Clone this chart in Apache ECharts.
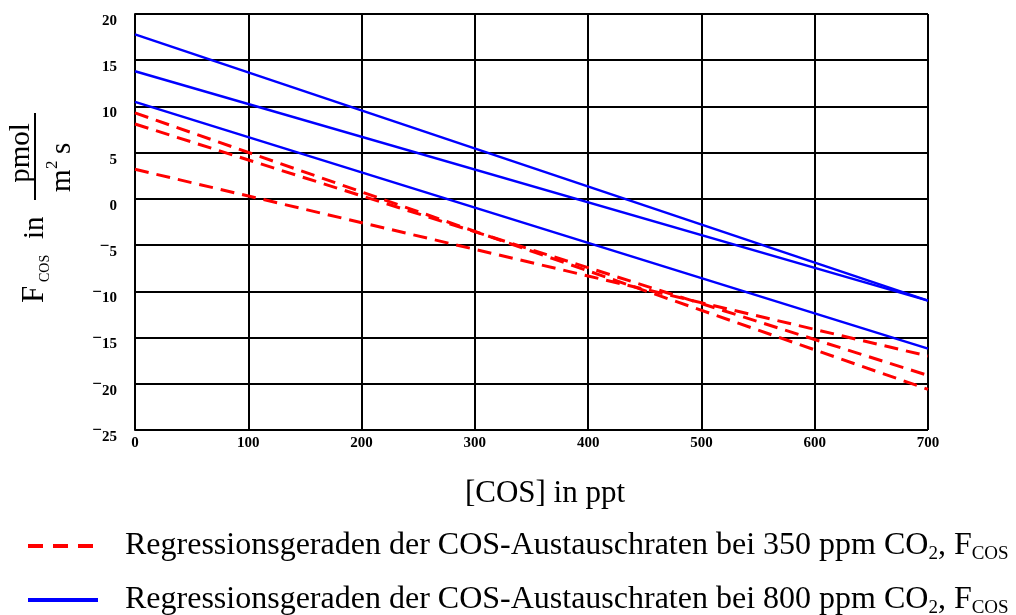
<!DOCTYPE html>
<html>
<head>
<meta charset="utf-8">
<script src="https://cdn.jsdelivr.net/npm/echarts@6/dist/echarts.min.js"></script>
<style>
  html, body { margin: 0; padding: 0; background: #fff; }
  #chart { width: 1016px; height: 615px; }
</style>
</head>
<body>
<div id="chart"></div>
<script>
// COS concentration range covered by the regression lines (ppt)
const cosRange = [0, 700];

// Regression lines at 350 ppm CO2: flux at [COS] = 0 and at [COS] = 700
const flux350Start = [9.3, 8.1, 3.2];
const flux350End = [-20.6, -19.1, -17.0];

// Regression lines at 800 ppm CO2
const flux800Start = [17.8, 13.8, 10.5];
const flux800End = [-11.0, -11.0, -16.2];

// Axis scales
const xTicks = { min: 0, max: 700, step: 100 };
const yTicks = { min: -25, max: 20, step: 5 };

// Legend texts: [main, subscript, main, subscript]
const legend350 = ['Regressionsgeraden der COS-Austauschraten bei 350 ppm CO', '2', ', F', 'COS'];
const legend800 = ['Regressionsgeraden der COS-Austauschraten bei 800 ppm CO', '2', ', F', 'COS'];

const SERIF = '"Liberation Serif", "Times New Roman", "DejaVu Serif", serif';
const name350 = legend350.join('');
const name800 = legend800.join('');

function lineData(starts, ends, i) {
  return [[cosRange[0], starts[i]], [cosRange[1], ends[i]]];
}

const series = [];
flux800Start.forEach((_, i) => {
  series.push({
    name: name800, type: 'line', symbol: 'none', silent: true,
    data: lineData(flux800Start, flux800End, i),
    lineStyle: { color: '#0000ff', width: 2.5 },
    itemStyle: { color: '#0000ff' }
  });
});
flux350Start.forEach((_, i) => {
  series.push({
    name: name350, type: 'line', symbol: 'none', silent: true,
    data: lineData(flux350Start, flux350End, i),
    lineStyle: { color: '#ff0000', width: 3, type: [14, 8] },
    itemStyle: { color: '#ff0000' }
  });
});

function legendRich(parts) {
  return '{t|' + parts[0] + '}{s|' + parts[1] + '}{t|' + parts[2] + '}{s|' + parts[3] + '}';
}

const chart = echarts.init(document.getElementById('chart'), null, { renderer: 'canvas' });

// Vertical axis title: F_COS in pmol / (m^2 s), rotated to read bottom-up
const T = 29;
const yTitle = {
  type: 'group',
  x: 45, y: 303,
  rotation: Math.PI / 2,
  silent: true,
  children: [
    { type: 'text', style: { text: 'F', x: 0, y: -10, fontSize: T + 2, fontFamily: SERIF, fill: '#000', align: 'left', verticalAlign: 'middle' } },
    { type: 'text', style: { text: 'COS', x: 21, y: 0, fontSize: 14, fontFamily: SERIF, fill: '#000', align: 'left', verticalAlign: 'middle' } },
    { type: 'text', style: { text: 'in', x: 64, y: -10, fontSize: T, fontFamily: SERIF, fill: '#000', align: 'left', verticalAlign: 'middle' } },
    { type: 'text', style: { text: 'pmol', x: 150, y: -24, fontSize: T, fontFamily: SERIF, fill: '#000', align: 'center', verticalAlign: 'middle' } },
    { type: 'line', shape: { x1: 103, y1: -10, x2: 190, y2: -10 }, style: { stroke: '#000', lineWidth: 2 } },
    { type: 'text', style: { text: 'm', x: 111, y: 17, fontSize: T, fontFamily: SERIF, fill: '#000', align: 'left', verticalAlign: 'middle' } },
    { type: 'text', style: { text: '2', x: 134, y: 8, fontSize: 17, fontFamily: SERIF, fill: '#000', align: 'left', verticalAlign: 'middle' } },
    { type: 'text', style: { text: 's', x: 149, y: 17, fontSize: T, fontFamily: SERIF, fill: '#000', align: 'left', verticalAlign: 'middle' } }
  ]
};

chart.setOption({
  animation: false,
  backgroundColor: '#fff',
  grid: { left: 135, right: 88, top: 14, bottom: 185, containLabel: false },
  xAxis: {
    type: 'value',
    min: xTicks.min, max: xTicks.max, interval: xTicks.step,
    name: '[COS] in ppt',
    nameLocation: 'middle',
    nameGap: 48,
    nameTextStyle: { fontSize: 31, fontFamily: SERIF, color: '#000', padding: [0, 0, 0, 27] },
    axisLine: { show: true, lineStyle: { color: '#000', width: 2 } },
    axisTick: { show: false },
    axisLabel: { margin: 6, fontSize: 15, fontWeight: 'bold', fontFamily: SERIF, color: '#000' },
    splitLine: { show: true, lineStyle: { color: '#000', width: 2 } }
  },
  yAxis: {
    type: 'value',
    min: yTicks.min, max: yTicks.max, interval: yTicks.step,
    axisLine: { show: true, lineStyle: { color: '#000', width: 2 } },
    axisTick: { show: false },
    axisLabel: {
      margin: 18,
      padding: [14, 0, 0, 0],
      formatter: function (v) {
        return v < 0 ? '{m|\u2212}{d|' + Math.abs(v) + '}' : '{d|' + v + '}';
      },
      rich: {
        d: { fontSize: 15, fontWeight: 'bold', fontFamily: SERIF, color: '#000', lineHeight: 16 },
        m: { fontSize: 17, fontWeight: 'bold', fontFamily: SERIF, color: '#000', lineHeight: 2, padding: [0, 0, 12, 0] }
      }
    },
    splitLine: { show: true, lineStyle: { color: '#000', width: 2 } }
  },
  legend: {
    orient: 'vertical',
    left: 26, top: 530, height: 140,
    padding: 0,
    itemGap: 20,
    itemWidth: 70,
    itemHeight: 4,
    selectedMode: false,
    data: [
      { name: name350, lineStyle: { color: '#ff0000', width: 4, type: [15, 10] }, itemStyle: { color: '#ff0000' } },
      { name: name800, lineStyle: { color: '#0000ff', width: 4 }, itemStyle: { color: '#0000ff' } }
    ],
    formatter: function (name) {
      return legendRich(name === name350 ? legend350 : legend800);
    },
    textStyle: {
      padding: [0, 0, 0, 22],
      rich: {
        t: { fontSize: 32, fontFamily: SERIF, color: '#000', lineHeight: 36 },
        s: { fontSize: 19, fontFamily: SERIF, color: '#000', lineHeight: 16, verticalAlign: 'bottom' }
      }
    }
  },
  graphic: [yTitle],
  series: series
});
</script>
</body>
</html>
